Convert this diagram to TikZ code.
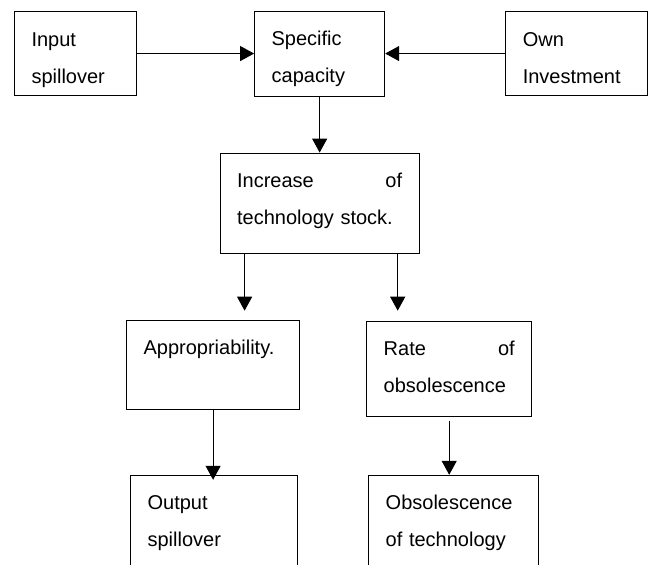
\documentclass[tikz,border=0pt]{standalone}
\usepackage{fontspec}
\setmainfont{Liberation Sans}
\usetikzlibrary{positioning, arrows.meta}

\tikzset{
  block/.style={draw, rectangle, line width=1.1pt, inner xsep=17pt, inner ysep=0pt,
                align=left, text height=34.5pt, font=\fontsize{20}{37}\selectfont},
  flow/.style={line width=1.1pt, -{Triangle[length=14pt, width=15pt]}}
}

\begin{document}
\begin{tikzpicture}[x=1pt, y=-1pt]
    \clip (0,0) rectangle (649,565);

    \node[block, anchor=north west, text width=88pt, text depth=49.5pt] (inp) at (14,11)
          {Input\\spillover};
    \node[block, right=117pt of inp, text width=96pt, text depth=50.5pt] (spec)
          {Specific\\capacity};
    \node[block, right=120pt of spec, text width=108pt, text depth=49.5pt] (own)
          {Own\\Investment};
    \node[block, below=56pt of spec, text width=165pt, text depth=65.5pt] (incr)
          {Increase\hfill of\\technology stock.};
    \node[block, below=66pt of incr.south west, xshift=-6.5pt,
          text width=139pt, text depth=54.5pt] (appr) {Appropriability.};
    \node[block, below=67pt of incr.south east, xshift=29.5pt,
          text width=131pt, text depth=60.5pt] (rate) {Rate\hfill of\\obsolescence};
    \node[block, below=65pt of appr, xshift=1pt,
          text width=133pt, text depth=93pt] (outp) {Output\\spillover};
    \node[block, below=58pt of rate, xshift=4.5pt,
          text width=136pt, text depth=93pt] (obs) {Obsolescence\\of technology};

    \draw[flow] (inp.east) -- (inp.east -| spec.west);
    \draw[flow] (own.west) -- (own.west -| spec.east);
    \draw[flow] (spec.south) -- (spec.south |- incr.north);

    %\draw[flow] (incr) -- (appr);
    \path (incr.south west) ++(25,0) coordinate (ia) ++(0,57) coordinate (ta);
    \path (incr.south east) ++(-22,0) coordinate (ib) ++(0,57) coordinate (tb);
    \draw[flow] (ia) -- (ta);
    \draw[flow] (ib) -- (tb);

    \draw[flow, shorten >=-5pt] (appr.south) -- (appr.south |- outp.north);
    \draw[flow, shorten <=4pt] (rate.south) -- (rate.south |- obs.north);
\end{tikzpicture}
\end{document}
